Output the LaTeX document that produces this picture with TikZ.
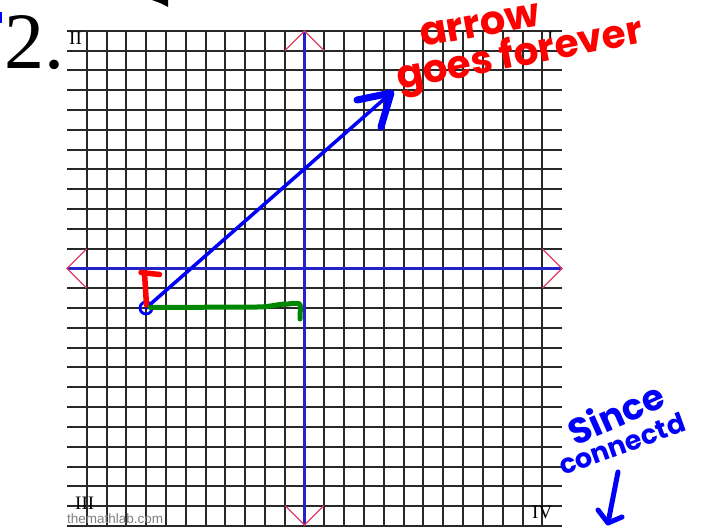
\documentclass[tikz,border=0pt]{standalone}
\usepackage{fontspec}
\usetikzlibrary{calc}
\setmainfont{Liberation Serif}
\newfontfamily\hand{Poppins}
\newfontfamily\websans{Liberation Sans}
\definecolor{gridc}{RGB}{40,40,40}
\definecolor{axisc}{RGB}{35,35,200}
\definecolor{chevc}{RGB}{225,60,100}
\definecolor{penred}{RGB}{255,0,0}
\definecolor{penblue}{RGB}{0,0,250}
\definecolor{pengreen}{RGB}{0,135,0}
\tikzset{
  gridline/.style={draw=gridc, line width=2pt},
  axisline/.style={draw=axisc, line width=3pt},
  chevron/.style={draw=chevc, line width=1.4pt},
  quadlabel/.style={font=\fontsize{19}{19}\selectfont, inner sep=0pt},
  handred/.style={text=penred, font=\hand\bfseries, inner sep=0pt, anchor=base west},
  handblue/.style={text=penblue, font=\hand\bfseries, inner sep=0pt, anchor=base west},
}
\begin{document}
\begin{tikzpicture}[x=1pt,y=-1pt]
\useasboundingbox (0,0) rectangle (702,527);
% grid (cell about 19.8 px)
\foreach \xx in {87,107,126,146,166,186,206,225,245,265,285,305,324,344,364,384,404,423,443,463,483,503,523,542}{
  \draw[gridline] (\xx,30) -- (\xx,530);
}
\foreach \yy in {31,51,70,90,110,130,150,169,189,209,229,249,268,288,308,328,348,367,387,407,427,447,467,486,506,526}{
  \draw[gridline] (67,\yy) -- (562,\yy);
}
% axes
\coordinate (xl) at (67,268.5);
\coordinate (xr) at (562,268.5);
\coordinate (yt) at (304.5,31);
\coordinate (yb) at (304.5,525);
\draw[axisline] (xl) -- (xr);
\draw[axisline] (yt) -- (yb);
% chevrons
\def\cs{19.5}
\draw[chevron] ($(xl)+(\cs,-\cs)$) -- (xl) -- ($(xl)+(\cs,\cs)$);
\draw[chevron] ($(xr)+(-\cs,-\cs)$) -- (xr) -- ($(xr)+(-\cs,\cs)$);
\draw[chevron] ($(yt)+(-\cs,\cs)$) -- (yt) -- ($(yt)+(\cs,\cs)$);
\draw[chevron] ($(yb)+(-\cs,-\cs)$) -- (yb) -- ($(yb)+(\cs,-\cs)$);
% labels
\node[inner sep=0pt, anchor=base west, font=\fontsize{80}{80}\selectfont] (num) at (4,69) {2.};
\node[quadlabel, anchor=base west] (q2) at (69,45) {II};
\node[quadlabel, anchor=base west] (q1) at (547,45) {I};
\node[quadlabel, anchor=base west] (q3) at (75,509) {III};
\node[quadlabel, anchor=base west] (q4) at (532,518) {IV};
\node[inner sep=0pt, anchor=base west, text=black!50, font=\websans\fontsize{13.5}{13.5}\selectfont] (web) at (67,523) {themathlab.com};
% stray marks
\fill (152,0) -- (168,0) -- (168,7) -- (160,3) -- cycle;
\draw[penblue, line width=2pt] (1,12) -- (1,23);
% blue arrow
\coordinate (P) at (146,308);
\coordinate (Q) at (391,93);
\coordinate (Qa) at (357,100);
\coordinate (Qb) at (381,127);
\draw[penblue, line width=3.5pt, line cap=round] (P) -- (Q);
\draw[penblue, line width=7pt, line cap=round, line join=round] (Qa) -- (Q) -- (Qb);
\node[draw=penblue, line width=2.8pt, circle, minimum size=12pt, inner sep=0pt] (dot) at (P) {};
% red T
\coordinate (Tb) at (146.5,305);
\coordinate (Tt) at (144.5,273);
\coordinate (Tl) at (141,272.5);
\coordinate (Tr) at (159.5,274.5);
\draw[penred, line width=5.5pt, line cap=round] (Tb) -- (Tt);
\draw[penred, line width=5.5pt, line cap=round] (Tl) -- (Tr);
% green
\coordinate (G0) at (150,307.5);
\coordinate (G1) at (257,307);
\coordinate (G2) at (288,304);
\coordinate (G3) at (300,319);
\draw[pengreen, line width=5pt, line cap=round, line join=round] (G0) -- (G1) .. controls (272,307) and (276,304) .. (G2) .. controls (304,302) and (300,303) .. (G3);
% annotations
\node[handred, rotate=10, font=\hand\bfseries\fontsize{40}{40}\selectfont] (arrow) at (422,47) {arrow};
\node[handred, rotate=11, font=\hand\bfseries\fontsize{39}{39}\selectfont] (goes) at (399,90) {goes forever};
\node[handblue, rotate=24, font=\hand\bfseries\fontsize{36}{36}\selectfont] (since) at (575,447) {Since};
\node[handblue, rotate=20, font=\hand\bfseries\fontsize{27}{27}\selectfont] (conn) at (563,476) {connectd};
\coordinate (A0) at (618,472);
\coordinate (A1) at (608,523);
\coordinate (A2) at (598,510);
\coordinate (A3) at (622,517);
\draw[penblue, line width=5pt, line cap=round, line join=round] (A0) -- (A1);
\draw[penblue, line width=5pt, line cap=round, line join=round] (A2) -- (A1) -- (A3);
\end{tikzpicture}
\end{document}
